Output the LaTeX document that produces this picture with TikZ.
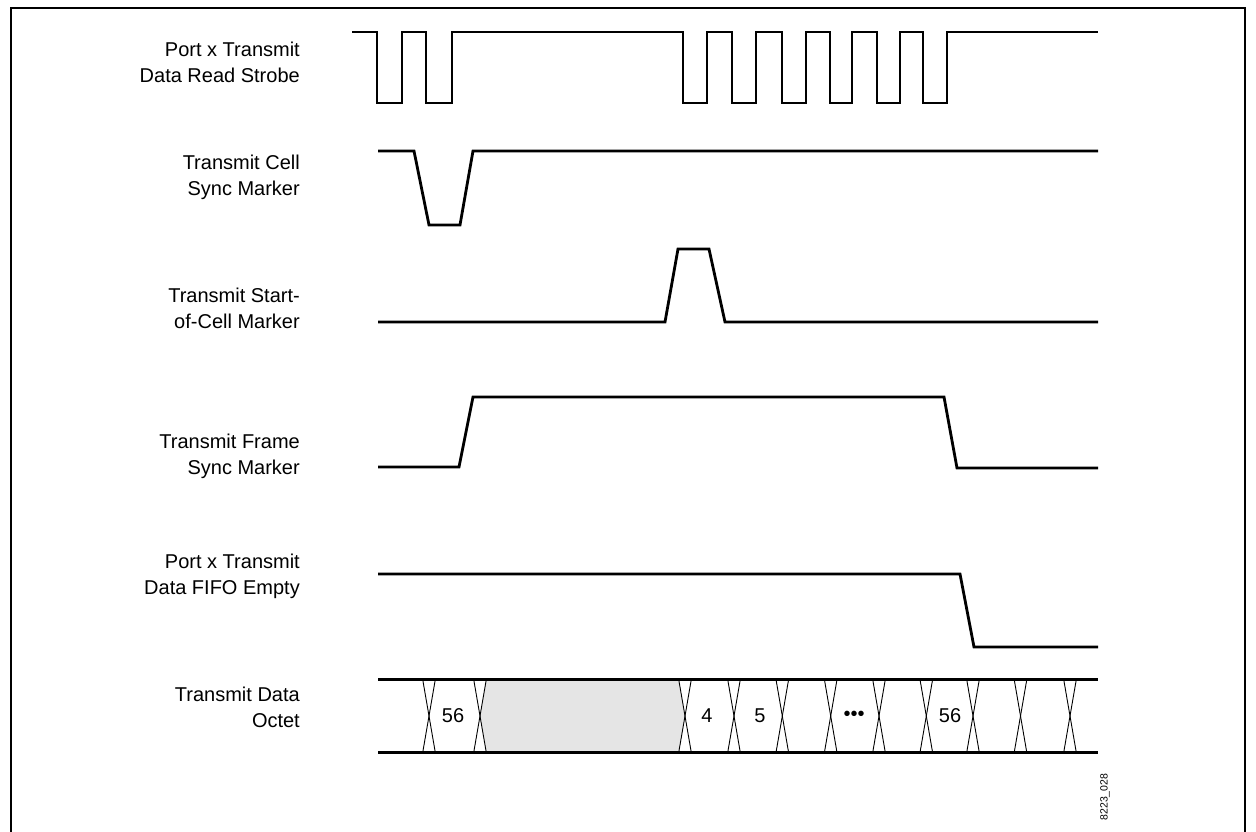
\documentclass[tikz,border=0pt]{standalone}
\usepackage{fontspec}
\setmainfont{Liberation Sans}
\begin{document}
\begin{tikzpicture}[x=1pt,y=-1pt,
  sig/.style={line width=2.8pt, line join=miter},
  busline/.style={line width=2.8pt},
  xline/.style={line width=0.9pt},
  lbl/.style={anchor=base east, inner sep=0pt, font=\fontsize{20}{26}\selectfont},
  dat/.style={inner sep=0pt, font=\fontsize{20}{24}\selectfont},
  frameline/.style={line width=2.2pt}]
\useasboundingbox (0,0) rectangle (1256,832);
\draw[frameline] (11,840) -- (11,8) -- (1245,8) -- (1245,840);

% labels
\node[lbl] (l1a) at (300,57) {Port x Transmit};
\node[lbl] (l1b) at (300,83) {Data Read Strobe};
\node[lbl] (l2a) at (300,169) {Transmit Cell};
\node[lbl] (l2b) at (300,195) {Sync Marker};
\node[lbl] (l3a) at (300,302) {Transmit Start-};
\node[lbl] (l3b) at (300,328) {of-Cell Marker};
\node[lbl] (l4a) at (300,448) {Transmit Frame};
\node[lbl] (l4b) at (300,474) {Sync Marker};
\node[lbl] (l5a) at (300,568) {Port x Transmit};
\node[lbl] (l5b) at (300,594) {Data FIFO Empty};
\node[lbl] (l6a) at (300,701) {Transmit Data};
\node[lbl] (l6b) at (300,727) {Octet};

% strobe
\draw[sig] (352,32) -- (377,32) -- (377,103) -- (402,103) -- (402,32) -- (426,32) -- (426,103) -- (452,103) -- (452,32)
  -- (683,32) -- (683,103) -- (707,103) -- (707,32) -- (732,32) -- (732,103) -- (756,103) -- (756,32)
  -- (782,32) -- (782,103) -- (806,103) -- (806,32) -- (830,32) -- (830,103) -- (852,103) -- (852,32)
  -- (877,32) -- (877,103) -- (900,103) -- (900,32) -- (923,32) -- (923,103) -- (947,103) -- (947,32) -- (1098,32);

% cell sync
\draw[sig] (378,151) -- (414,151) -- (429,225) -- (460,225) -- (473,151) -- (1098,151);
% start of cell
\draw[sig] (378,322) -- (665,322) -- (678,249) -- (709,249) -- (725,322) -- (1098,322);
% frame sync
\draw[sig] (378,467) -- (459,467) -- (473,397) -- (944,397) -- (957,468) -- (1098,468);
% fifo empty
\draw[sig] (378,574) -- (960,574) -- (974,647) -- (1098,647);

% data bus
\fill[black!10] (486.3,679.5) -- (678.7,679.5) -- (685,716) -- (678.7,752.5) -- (486.3,752.5) -- (480,716) -- cycle;
\foreach \c in {429,480,685,734,782.3,830.7,879,926.3,973,1020.5,1070}{
  \draw[xline] (\c-6.3,679.5) -- (\c+6.3,752.5);
  \draw[xline] (\c-6.3,752.5) -- (\c+6.3,679.5);
}
\draw[busline] (378,679.5) -- (1098,679.5);
\draw[busline] (378,752.5) -- (1098,752.5);
\node[dat] (d1) at (453,716) {56};
\node[dat] (d2) at (707,716) {4};
\node[dat] (d3) at (760,716) {5};
\node[dat] (d4) at (854,716) {•••};
\node[dat] (d5) at (950,716) {56};

\node[rotate=90, inner sep=0pt, font=\fontsize{10.5}{12}\selectfont] (id) at (1105,797) {8223\_028};
\end{tikzpicture}
\end{document}
